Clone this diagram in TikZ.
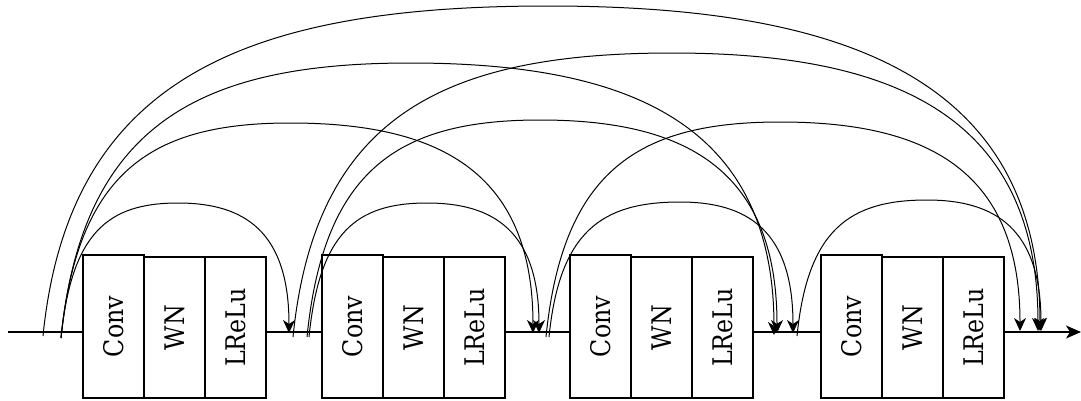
\documentclass[tikz,border=0pt]{standalone}
\usepackage{fontspec}
\setmainfont{DejaVu Serif}[FakeStretch=0.88]
\usepackage{graphicx}
\usetikzlibrary{arrows.meta,calc}
\newcommand{\skiparc}[3]{\draw[skip] let \p1=(#1), \p2=(#2), \p3=(#3) in (\p1) .. controls ({\x1+0.078*(\y2-\y1)},{\y1+0.78*(\y2-\y1)}) and ({\x2-0.6*(\x2-\x1)},\y2) .. (\p2) .. controls ({\x2+0.6*(\x3-\x2)},\y2) and (\x3,{\y3+0.78*(\y2-\y3)}) .. (\p3);}
\begin{document}
\begin{tikzpicture}[x=1pt,y=-1pt,
  layer/.style={draw, line width=1.3pt, fill=white, minimum width=61pt, minimum height=141pt, inner sep=0pt, font=\fontsize{27}{31}\selectfont},
  convbox/.style={layer, minimum height=143pt},
  flow/.style={line width=1.2pt},
  skip/.style={line width=1pt, -{Stealth[length=13pt,width=12pt,inset=4pt]}},
]
\useasboundingbox (0,0) rectangle (1081,400);
% blocks
\foreach \i/\b in {1/83,2/322,3/570,4/821}{
  \node[convbox] (c\i) at (\b+30.5,326.5) {\rotatebox{90}{Conv}};
  \node[layer] (w\i) at (\b+91.5,327.5) {\rotatebox{90}{WN}};
  \node[layer] (l\i) at (\b+152.5,327.5) {\rotatebox{90}{LReLu}};
}
% main line
\coordinate (in) at (8,332);
\coordinate (out) at (1081,332);
\draw[flow] (in) -- (in -| c1.west);
\draw[flow] (in -| l1.east) -- (in -| c2.west);
\draw[flow] (in -| l2.east) -- (in -| c3.west);
\draw[flow] (in -| l3.east) -- (in -| c4.west);
\draw[flow,-{Stealth[length=15pt,width=13pt,inset=4pt]}] (in -| l4.east) -- (out);
% arc end points
\coordinate (s0a) at (43,336);  \coordinate (s0b) at (61,338);
\coordinate (e1)  at (289,333);
\coordinate (s1a) at (293,337); \coordinate (s1b) at (307,337); \coordinate (s1c) at (309,337);
\coordinate (e2a) at (533,333); \coordinate (e2b) at (539,333);
\coordinate (s2a) at (546,337); \coordinate (s2b) at (549,337);
\coordinate (e3a) at (774,335); \coordinate (e3b) at (777,333); \coordinate (e3c) at (793,333);
\coordinate (s3)  at (797,336);
\coordinate (e4a) at (1020,331); \coordinate (e4b) at (1038,331); \coordinate (e4c) at (1040,331); \coordinate (e4d) at (1041,331);
% peaks
\coordinate (p01) at (178,203);
\coordinate (p02) at (290,123);
\coordinate (p03) at (410,63);
\coordinate (p04) at (548,6);
\coordinate (p12) at (427,203);
\coordinate (p13) at (540,120);
\coordinate (p14) at (672,53);
\coordinate (p23) at (680,202);
\coordinate (p24) at (780,122);
\coordinate (p34) at (927,200);
% dense skip connections
\skiparc{s0b}{p01}{e1}
\skiparc{s0b}{p02}{e2a}
\skiparc{s0b}{p03}{e3a}
\skiparc{s0a}{p04}{e4c}
\skiparc{s1c}{p12}{e2b}
\skiparc{s1b}{p13}{e3b}
\skiparc{s1a}{p14}{e4b}
\skiparc{s2b}{p23}{e3c}
\skiparc{s2a}{p24}{e4a}
\skiparc{s3}{p34}{e4d}
\end{tikzpicture}
\end{document}
